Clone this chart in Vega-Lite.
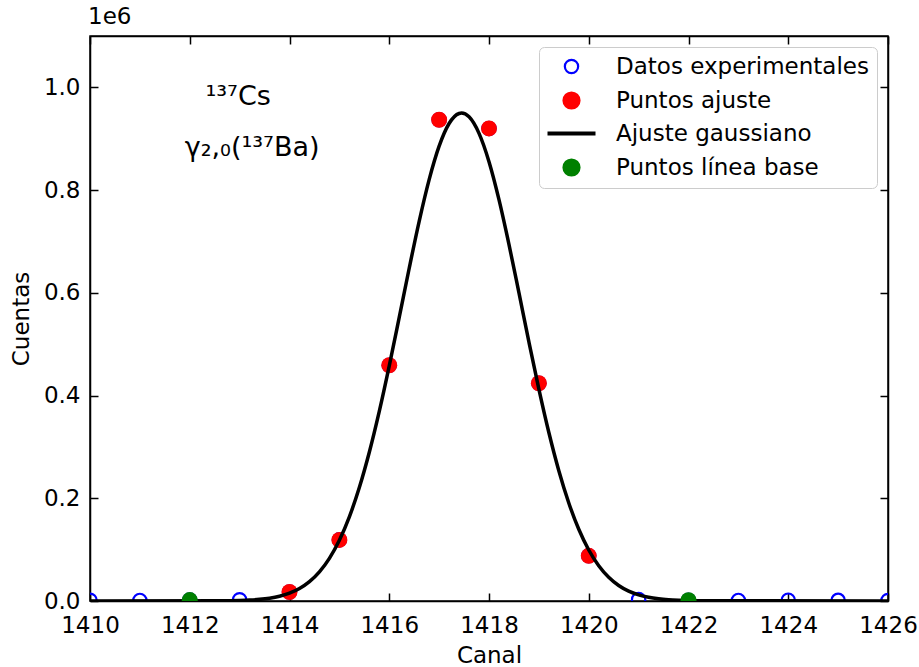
{
  "$schema": "https://vega.github.io/schema/vega-lite/v6.json",
  "width": 798,
  "height": 565,
  "autosize": "none",
  "padding": {"left": 90, "top": 36, "right": 31, "bottom": 66},
  "background": "white",
  "title": {"text": "1e6", "anchor": "start", "frame": "group", "fontSize": 23, "fontWeight": "normal", "font": "DejaVu Sans", "color": "black", "offset": 6, "dx": -2},
  "config": {
    "font": "DejaVu Sans",
    "view": {"stroke": "black", "strokeWidth": 1.5},
    "axis": {
      "domainColor": "black", "domainWidth": 1.5, "tickColor": "black", "tickWidth": 1.5,
      "tickSize": -8, "labelPadding": 16, "grid": false,
      "labelFont": "DejaVu Sans", "labelFontSize": 23, "labelColor": "black",
      "titleFont": "DejaVu Sans", "titleFontSize": 23, "titleFontWeight": "normal", "titleColor": "black"
    },
    "legend": {
      "orient": "top-right", "offset": 11, "padding": 8, "strokeColor": "#cccccc", "cornerRadius": 5,
      "fillColor": "white", "labelFont": "DejaVu Sans", "labelFontSize": 23, "labelColor": "black", "labelLimit": 500,
      "symbolSize": 2304, "symbolOffset": 13, "labelOffset": 33, "rowPadding": 9
    }
  },
  "datasets": {
    "curve": [
      {"canal": 1410, "cuentas": 0},
      {"canal": 1412.6, "cuentas": 270},
      {"canal": 1413.0, "cuentas": 980},
      {"canal": 1413.2, "cuentas": 1790},
      {"canal": 1413.4, "cuentas": 3190},
      {"canal": 1413.6, "cuentas": 5530},
      {"canal": 1413.8, "cuentas": 9310},
      {"canal": 1414.0, "cuentas": 15240},
      {"canal": 1414.2, "cuentas": 24250},
      {"canal": 1414.4, "cuentas": 37580},
      {"canal": 1414.6, "cuentas": 56620},
      {"canal": 1414.8, "cuentas": 82940},
      {"canal": 1415.0, "cuentas": 118200},
      {"canal": 1415.2, "cuentas": 163810},
      {"canal": 1415.4, "cuentas": 220800},
      {"canal": 1415.6, "cuentas": 289550},
      {"canal": 1415.8, "cuentas": 369140},
      {"canal": 1416.0, "cuentas": 457800},
      {"canal": 1416.2, "cuentas": 552210},
      {"canal": 1416.4, "cuentas": 647840},
      {"canal": 1416.6, "cuentas": 739220},
      {"canal": 1416.8, "cuentas": 820370},
      {"canal": 1417.0, "cuentas": 885500},
      {"canal": 1417.2, "cuentas": 929600},
      {"canal": 1417.4, "cuentas": 949170},
      {"canal": 1417.45, "cuentas": 950000},
      {"canal": 1417.6, "cuentas": 942610},
      {"canal": 1417.8, "cuentas": 910440},
      {"canal": 1418.0, "cuentas": 855280},
      {"canal": 1418.2, "cuentas": 781450},
      {"canal": 1418.4, "cuentas": 694420},
      {"canal": 1418.6, "cuentas": 600200},
      {"canal": 1418.8, "cuentas": 504550},
      {"canal": 1419.0, "cuentas": 412490},
      {"canal": 1419.2, "cuentas": 328030},
      {"canal": 1419.4, "cuentas": 253710},
      {"canal": 1419.6, "cuentas": 190840},
      {"canal": 1419.8, "cuentas": 139590},
      {"canal": 1420.0, "cuentas": 99350},
      {"canal": 1420.2, "cuentas": 68750},
      {"canal": 1420.4, "cuentas": 46270},
      {"canal": 1420.6, "cuentas": 30290},
      {"canal": 1420.8, "cuentas": 19290},
      {"canal": 1421.0, "cuentas": 11950},
      {"canal": 1421.2, "cuentas": 7190},
      {"canal": 1421.4, "cuentas": 4220},
      {"canal": 1421.6, "cuentas": 2400},
      {"canal": 1421.8, "cuentas": 1330},
      {"canal": 1422.2, "cuentas": 380},
      {"canal": 1426, "cuentas": 0}
    ],
    "exp": [
      {"canal": 1410, "cuentas": 1500, "serie": "Datos experimentales"},
      {"canal": 1411, "cuentas": 1200, "serie": "Datos experimentales"},
      {"canal": 1412, "cuentas": 1800, "serie": "Datos experimentales"},
      {"canal": 1413, "cuentas": 2500, "serie": "Datos experimentales"},
      {"canal": 1414, "cuentas": 17500, "serie": "Datos experimentales"},
      {"canal": 1415, "cuentas": 119000, "serie": "Datos experimentales"},
      {"canal": 1416, "cuentas": 459000, "serie": "Datos experimentales"},
      {"canal": 1417, "cuentas": 937000, "serie": "Datos experimentales"},
      {"canal": 1418, "cuentas": 920000, "serie": "Datos experimentales"},
      {"canal": 1419, "cuentas": 424000, "serie": "Datos experimentales"},
      {"canal": 1420, "cuentas": 88000, "serie": "Datos experimentales"},
      {"canal": 1421, "cuentas": 3000, "serie": "Datos experimentales"},
      {"canal": 1422, "cuentas": 1500, "serie": "Datos experimentales"},
      {"canal": 1423, "cuentas": 1200, "serie": "Datos experimentales"},
      {"canal": 1424, "cuentas": 1600, "serie": "Datos experimentales"},
      {"canal": 1425, "cuentas": 1300, "serie": "Datos experimentales"},
      {"canal": 1426, "cuentas": 1100, "serie": "Datos experimentales"}
    ],
    "fit": [
      {"canal": 1414, "cuentas": 17500, "serie": "Puntos ajuste"},
      {"canal": 1415, "cuentas": 119000, "serie": "Puntos ajuste"},
      {"canal": 1416, "cuentas": 459000, "serie": "Puntos ajuste"},
      {"canal": 1417, "cuentas": 937000, "serie": "Puntos ajuste"},
      {"canal": 1418, "cuentas": 920000, "serie": "Puntos ajuste"},
      {"canal": 1419, "cuentas": 424000, "serie": "Puntos ajuste"},
      {"canal": 1420, "cuentas": 88000, "serie": "Puntos ajuste"}
    ],
    "base": [
      {"canal": 1412, "cuentas": 1800, "serie": "Puntos línea base"},
      {"canal": 1422, "cuentas": 1500, "serie": "Puntos línea base"}
    ],
    "notes": [
      {"canal": 1412.97, "cuentas": 980500, "texto": "¹³⁷Cs"},
      {"canal": 1413.25, "cuentas": 881300, "texto": "γ₂,₀(¹³⁷Ba)"}
    ]
  },
  "resolve": {"axis": {"x": "independent", "y": "independent"}},
  "layer": [
    {
      "data": {"name": "exp"},
      "mark": {"type": "point", "filled": false, "size": 177, "strokeWidth": 2.2, "opacity": 1, "clip": true},
      "encoding": {
        "x": {"field": "canal", "type": "quantitative", "scale": {"domain": [1410, 1426], "nice": false, "zero": false},
              "axis": {"orient": "bottom", "title": "Canal", "values": [1410, 1412, 1414, 1416, 1418, 1420, 1422, 1424, 1426], "format": "d", "labelFlush": false, "labelPadding": 21, "titlePadding": 7}},
        "y": {"field": "cuentas", "type": "quantitative", "scale": {"domain": [0, 1100000], "nice": false},
              "axis": {"orient": "left", "title": "Cuentas", "values": [0, 200000, 400000, 600000, 800000, 1000000], "labelExpr": "format(datum.value / 1000000, '.1f')", "labelPadding": 18, "titlePadding": 10}},
        "color": {"field": "serie", "type": "nominal",
                  "scale": {"domain": ["Datos experimentales", "Puntos ajuste", "Ajuste gaussiano", "Puntos línea base"], "range": ["blue", "red", "black", "green"]},
                  "legend": {"title": null,
                    "encode": {"symbols": {"update": {
                      "shape": {"signal": "datum.value === 'Ajuste gaussiano' ? 'stroke' : 'circle'"},
                      "fill": {"signal": "datum.value === 'Puntos ajuste' ? 'red' : datum.value === 'Puntos línea base' ? 'green' : 'transparent'"},
                      "fillOpacity": {"signal": "datum.value === 'Datos experimentales' ? 0 : 1"},
                      "stroke": {"signal": "datum.value === 'Datos experimentales' ? 'blue' : datum.value === 'Ajuste gaussiano' ? 'black' : 'transparent'"},
                      "strokeWidth": {"signal": "datum.value === 'Ajuste gaussiano' ? 4 : 2.2"},
                      "size": {"signal": "datum.value === 'Ajuste gaussiano' ? 2304 : datum.value === 'Datos experimentales' ? 177 : 256"},
                      "opacity": {"value": 1}
                    }}}}}
      }
    },
    {
      "data": {"name": "fit"},
      "mark": {"type": "circle", "size": 256, "opacity": 1, "clip": true},
      "encoding": {
        "x": {"field": "canal", "type": "quantitative", "axis": null},
        "y": {"field": "cuentas", "type": "quantitative", "axis": null},
        "color": {"field": "serie", "type": "nominal",
                  "legend": {"title": null,
                    "encode": {"symbols": {"update": {
                      "shape": {"signal": "datum.value === 'Ajuste gaussiano' ? 'stroke' : 'circle'"},
                      "fill": {"signal": "datum.value === 'Puntos ajuste' ? 'red' : datum.value === 'Puntos línea base' ? 'green' : 'transparent'"},
                      "fillOpacity": {"signal": "datum.value === 'Datos experimentales' ? 0 : 1"},
                      "stroke": {"signal": "datum.value === 'Datos experimentales' ? 'blue' : datum.value === 'Ajuste gaussiano' ? 'black' : 'transparent'"},
                      "strokeWidth": {"signal": "datum.value === 'Ajuste gaussiano' ? 4 : 2.2"},
                      "size": {"signal": "datum.value === 'Ajuste gaussiano' ? 2304 : datum.value === 'Datos experimentales' ? 177 : 256"},
                      "opacity": {"value": 1}
                    }}}}}
      }
    },
    {
      "data": {"name": "curve"},
      "mark": {"type": "line", "strokeWidth": 3.5, "interpolate": "monotone", "clip": true},
      "encoding": {
        "x": {"field": "canal", "type": "quantitative", "axis": null},
        "y": {"field": "cuentas", "type": "quantitative", "axis": null},
        "color": {"datum": "Ajuste gaussiano",
                  "legend": {"title": null,
                    "encode": {"symbols": {"update": {
                      "shape": {"signal": "datum.value === 'Ajuste gaussiano' ? 'stroke' : 'circle'"},
                      "fill": {"signal": "datum.value === 'Puntos ajuste' ? 'red' : datum.value === 'Puntos línea base' ? 'green' : 'transparent'"},
                      "fillOpacity": {"signal": "datum.value === 'Datos experimentales' ? 0 : 1"},
                      "stroke": {"signal": "datum.value === 'Datos experimentales' ? 'blue' : datum.value === 'Ajuste gaussiano' ? 'black' : 'transparent'"},
                      "strokeWidth": {"signal": "datum.value === 'Ajuste gaussiano' ? 4 : 2.2"},
                      "size": {"signal": "datum.value === 'Ajuste gaussiano' ? 2304 : datum.value === 'Datos experimentales' ? 177 : 256"},
                      "opacity": {"value": 1}
                    }}}}}
      }
    },
    {
      "data": {"name": "base"},
      "mark": {"type": "circle", "size": 256, "opacity": 1, "clip": true},
      "encoding": {
        "x": {"field": "canal", "type": "quantitative", "axis": null},
        "y": {"field": "cuentas", "type": "quantitative", "axis": null},
        "color": {"field": "serie", "type": "nominal",
                  "legend": {"title": null,
                    "encode": {"symbols": {"update": {
                      "shape": {"signal": "datum.value === 'Ajuste gaussiano' ? 'stroke' : 'circle'"},
                      "fill": {"signal": "datum.value === 'Puntos ajuste' ? 'red' : datum.value === 'Puntos línea base' ? 'green' : 'transparent'"},
                      "fillOpacity": {"signal": "datum.value === 'Datos experimentales' ? 0 : 1"},
                      "stroke": {"signal": "datum.value === 'Datos experimentales' ? 'blue' : datum.value === 'Ajuste gaussiano' ? 'black' : 'transparent'"},
                      "strokeWidth": {"signal": "datum.value === 'Ajuste gaussiano' ? 4 : 2.2"},
                      "size": {"signal": "datum.value === 'Ajuste gaussiano' ? 2304 : datum.value === 'Datos experimentales' ? 177 : 256"},
                      "opacity": {"value": 1}
                    }}}}}
      }
    },
    {
      "data": {"name": "notes"},
      "mark": {"type": "text", "fontSize": 27, "font": "DejaVu Sans", "color": "black", "align": "center", "baseline": "middle"},
      "encoding": {
        "x": {"field": "canal", "type": "quantitative", "axis": null},
        "y": {"field": "cuentas", "type": "quantitative", "axis": null},
        "text": {"field": "texto"}
      }
    },
    {
      "data": {"name": "base"},
      "mark": {"type": "point", "opacity": 0},
      "encoding": {
        "x": {"field": "canal", "type": "quantitative",
              "axis": {"orient": "top", "title": null, "labels": false, "values": [1410, 1412, 1414, 1416, 1418, 1420, 1422, 1424, 1426]}},
        "y": {"field": "cuentas", "type": "quantitative",
              "axis": {"orient": "right", "title": null, "labels": false, "values": [0, 200000, 400000, 600000, 800000, 1000000]}}
      }
    }
  ]
}
